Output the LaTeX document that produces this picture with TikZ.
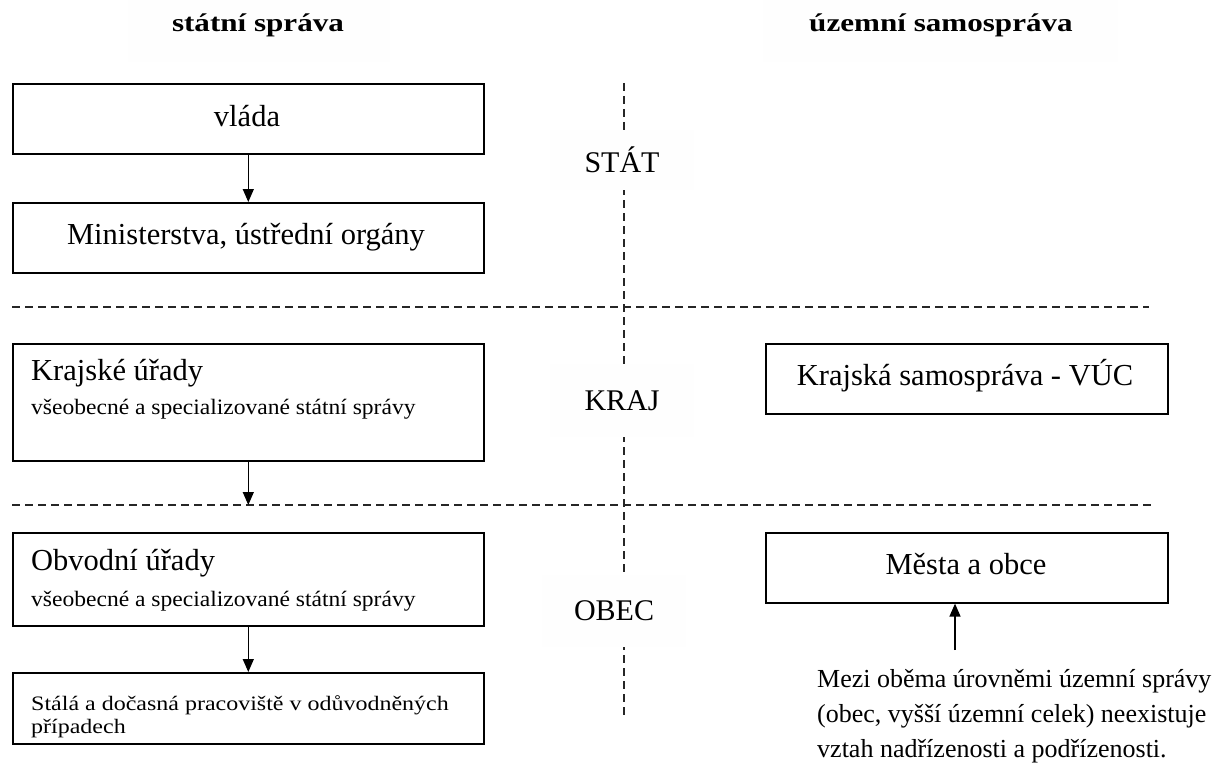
\documentclass[tikz,border=0pt]{standalone}
\usepackage{fontspec}
\setmainfont{Liberation Serif}
\newfontfamily\titlefont{Liberation Serif}[FakeStretch=1.22]
\newfontfamily\subfont{Liberation Serif}[FakeStretch=1.07]
\newfontfamily\stfont{Liberation Serif}[FakeStretch=1.17]
\usetikzlibrary{arrows.meta}
\begin{document}
\begin{tikzpicture}[x=1pt,y=-1pt,
  box/.style={draw=black, line width=1.6pt, inner sep=0pt, anchor=north west},
  faint/.style={fill=black!0.4, draw=none, inner sep=0pt},
  big/.style={inner sep=0pt, font=\fontsize{30.5}{36}\selectfont},
  small/.style={inner sep=0pt, font=\subfont\fontsize{22}{26}\selectfont},
  stl/.style={inner sep=0pt, anchor=base west, font=\stfont\fontsize{20.5}{23}\selectfont},
  notetxt/.style={inner sep=0pt, anchor=base west, font=\fontsize{26}{35}\selectfont},
  ttl/.style={inner sep=0pt, anchor=base, font=\titlefont\bfseries\fontsize{25.5}{30}\selectfont},
  lbl/.style={faint, font=\fontsize{30}{36}\selectfont, minimum width=144pt},
  arr/.style={line width=1.3pt, -{Triangle[length=13pt,width=11pt]}},
  dashline/.style={line width=1.3pt, black!85, dash pattern=on 8pt off 5pt}
]
\useasboundingbox (0,0) rectangle (1214,765);

% title backgrounds and titles
\node[faint, anchor=north west, minimum width=262pt, minimum height=62pt] (tbl) at (128,0) {};
\node[faint, anchor=north west, minimum width=355pt, minimum height=62pt] (tbr) at (763,0) {};
\node[ttl] (tl) at (258,32) {státní správa};
\node[ttl] (tr) at (941,32) {územní samospráva};

% dashed grid
\coordinate (v1) at (624,83);
\coordinate (v2) at (624,718);
\coordinate (h1a) at (12,307);
\coordinate (h1b) at (1149,307);
\coordinate (h2a) at (12,505);
\coordinate (h2b) at (1155,505);
\draw[dashline] (v1) -- (v2);
\draw[dashline] (h1a) -- (h1b);
\draw[dashline] (h2a) -- (h2b);

% level labels
\node[lbl, minimum height=60pt] (stat) at (622,160) {STÁT};
\node[lbl, minimum height=73pt] (krajl) at (622,400.5) {KRAJ};
\node[lbl, minimum height=72pt] (obec) at (614,611) {OBEC};

% left column boxes
\node[box, minimum width=471pt, minimum height=70pt] (vlada) at (12,83) {};
\node[box, minimum width=471pt, minimum height=70pt] (mini) at (12,202) {};
\node[box, minimum width=471pt, minimum height=117pt] (kraj) at (12,343) {};
\node[box, minimum width=471pt, minimum height=93pt] (obv) at (12,532) {};
\node[box, minimum width=471pt, minimum height=71pt] (stala) at (12,672) {};

\node[big, anchor=base] (tvlada) at (247,126) {vláda};
\node[big, anchor=base] (tmini) at (246,244) {Ministerstva, ústřední orgány};
\node[big, anchor=base west] (tkraj) at (31,380) {Krajské úřady};
\node[small, anchor=base west] (tkraj2) at (31,414) {všeobecné a specializované státní správy};
\node[big, anchor=base west] (tobv) at (31,570) {Obvodní úřady};
\node[small, anchor=base west] (tobv2) at (31,606) {všeobecné a specializované státní správy};
\node[stl] (tst1) at (31,710) {Stálá a dočasná pracoviště v odůvodněných};
\node[stl] (tst2) at (31,733) {případech};

% right column boxes
\node[box, minimum width=402pt, minimum height=70pt] (kss) at (765,343) {};
\node[box, minimum width=402pt, minimum height=70pt] (mesta) at (765,532) {};
\node[big, anchor=base] (tkss) at (965,385) {Krajská samospráva - VÚC};
\node[big, anchor=base] (tmesta) at (966,574) {Města a obce};

% note
\node[notetxt] (n1) at (817,687) {Mezi oběma úrovněmi územní správy};
\node[notetxt] (n2) at (817,722) {(obec, vyšší územní celek) neexistuje};
\node[notetxt] (n3) at (817,757) {vztah nadřízenosti a podřízenosti.};

% arrows
\coordinate (kend) at (kraj.south |- h2a);
\coordinate (nstart) at (955,650);
\draw[arr] (vlada.south) -- (mini.north);
\draw[arr] (kraj.south) -- (kend);
\draw[arr] (obv.south) -- (stala.north);
\draw[arr] (nstart) -- (nstart |- mesta.south);
\end{tikzpicture}
\end{document}
